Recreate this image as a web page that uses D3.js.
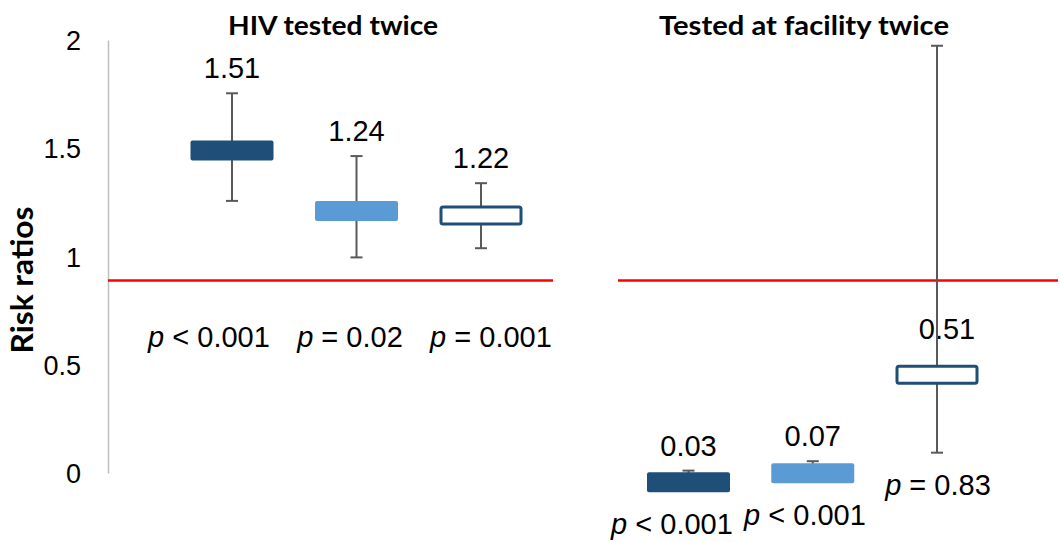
<!DOCTYPE html>
<html>
<head>
<meta charset="utf-8">
<script src="https://cdn.jsdelivr.net/npm/d3@7"></script>
<style>
  html, body { margin: 0; padding: 0; background: #fff; }
  svg { display: block; }
</style>
</head>
<body>
<svg id="chart" width="1060" height="542"></svg>
<script>
// ---------------- data ----------------
const panelTitles = ["HIV tested twice", "Tested at facility twice"];
const seriesNames = ["Series 1", "Series 2", "Series 3"];

// Panel 1: HIV tested twice
const rrHIV   = [1.51, 1.24, 1.22];
const lowHIV  = [1.285, 1.033, 1.074];
const highHIV = [1.765, 1.485, 1.364];
const pHIV    = ["< 0.001", "= 0.02", "= 0.001"];

// Panel 2: Tested at facility twice
const rrFac   = [0.03, 0.07, 0.51];
const lowFac  = [0.01, 0.04, 0.162];
const highFac = [0.082, 0.124, 1.977];
const pFac    = ["< 0.001", "< 0.001", "= 0.83"];

const refLineValue = 0.93;
const tickValues = [0, 0.5, 1, 1.5, 2];
const tickLabels = ["0", "0.5", "1", "1.5", "2"];
const yAxisTitle = "Risk ratios";

// ---------------- styles ----------------
const seriesStyle = [
  { fill: "#1F4E79", stroke: "none", sw: 0 },
  { fill: "#5B9BD5", stroke: "none", sw: 0 },
  { fill: "#FFFFFF", stroke: "#1F4E79", sw: 3 }
];
const numFont = "'Liberation Sans', Arial, sans-serif";
const titleFont = "Lato, 'Open Sans', sans-serif";

const svg = d3.select("#chart");

// scales
const yAxisScale = d3.scaleLinear().domain([0, 2]).range([473, 40]);
const yData = d3.scaleLinear().domain([0, 2]).range([489, 40.6]);

const panels = [
  { title: panelTitles[0], rr: rrHIV, low: lowHIV, high: highHIV, p: pHIV,
    x: d3.scalePoint().domain(seriesNames).range([232, 481]),
    px: d3.scalePoint().domain(seriesNames).range([209, 491]),
    lineX: [108, 553], titleX: 333, titleLen: 210, pMode: "fixed" },
  { title: panelTitles[1], rr: rrFac, low: lowFac, high: highFac, p: pFac,
    x: d3.scalePoint().domain(seriesNames).range([688.5, 937]),
    px: d3.scalePoint().domain(seriesNames).range([672, 938]),
    lineX: [618, 1058], titleX: 804, titleLen: 290, pMode: "below" }
];

// y axis
const axis = d3.axisLeft(yAxisScale)
  .tickValues(tickValues)
  .tickFormat((d, i) => tickLabels[i])
  .tickSize(0).tickSizeOuter(0).tickPadding(27);
const gAxis = svg.append("g").attr("transform", "translate(108,0)").call(axis);
gAxis.select(".domain").attr("stroke", "#BFBFBF").attr("stroke-width", 1.5);
gAxis.selectAll(".tick text")
  .attr("font-family", numFont).attr("font-size", 27).attr("fill", "#000")
  .attr("dy", "0.36em");

// y axis title
svg.append("text")
  .attr("transform", "translate(33,280) rotate(-90)")
  .attr("text-anchor", "middle")
  .attr("font-family", titleFont).attr("font-weight", 700).attr("font-size", 30)
  .attr("textLength", 147).attr("lengthAdjust", "spacingAndGlyphs")
  .attr("fill", "#000")
  .text(yAxisTitle);

const boxW = 83, boxH = 20, capW = 12;

panels.forEach(P => {
  const g = svg.append("g");
  const rows = seriesNames.map((s, i) => ({
    s, i, rr: P.rr[i], low: P.low[i], high: P.high[i], p: P.p[i]
  }));

  // title
  g.append("text")
    .attr("x", P.titleX).attr("y", 35)
    .attr("text-anchor", "middle")
    .attr("font-family", titleFont).attr("font-weight", 700).attr("font-size", 27)
    .attr("textLength", P.titleLen).attr("lengthAdjust", "spacingAndGlyphs")
    .attr("fill", "#000")
    .text(P.title);

  // reference line
  g.append("line")
    .attr("x1", P.lineX[0]).attr("x2", P.lineX[1])
    .attr("y1", yData(refLineValue)).attr("y2", yData(refLineValue))
    .attr("stroke", "#FF0000").attr("stroke-width", 2.5);

  // value labels (drawn before whiskers, as in the original)
  g.selectAll("text.val").data(rows).join("text").attr("class", "val")
    .attr("x", d => (d.high - d.rr > 0.6) ? P.x(d.s) + 10 : P.x(d.s))
    .attr("y", d => (d.high - d.rr > 0.6)
      ? yData(d.rr) - boxH / 2 - 26
      : yData(d.high) - 15)
    .attr("text-anchor", "middle")
    .attr("font-family", numFont).attr("font-size", 29).attr("fill", "#000")
    .text(d => d.rr.toFixed(2));

  // whiskers
  const wg = g.append("g").attr("stroke", "#595959").attr("stroke-width", 2);
  wg.selectAll("line.w").data(rows).join("line").attr("class", "w")
    .attr("x1", d => P.x(d.s)).attr("x2", d => P.x(d.s))
    .attr("y1", d => yData(d.high)).attr("y2", d => yData(d.low));
  wg.selectAll("line.ct").data(rows).join("line").attr("class", "ct")
    .attr("x1", d => P.x(d.s) - capW / 2).attr("x2", d => P.x(d.s) + capW / 2)
    .attr("y1", d => yData(d.high)).attr("y2", d => yData(d.high));
  wg.selectAll("line.cb").data(rows).join("line").attr("class", "cb")
    .attr("x1", d => P.x(d.s) - capW / 2).attr("x2", d => P.x(d.s) + capW / 2)
    .attr("y1", d => yData(d.low)).attr("y2", d => yData(d.low));

  // boxes
  g.selectAll("rect.box").data(rows).join("rect").attr("class", "box")
    .attr("x", d => P.x(d.s) - (boxW - seriesStyle[d.i].sw) / 2)
    .attr("y", d => yData(d.rr) - (boxH - seriesStyle[d.i].sw) / 2)
    .attr("width", d => boxW - seriesStyle[d.i].sw)
    .attr("height", d => boxH - seriesStyle[d.i].sw)
    .attr("rx", 2)
    .attr("fill", d => seriesStyle[d.i].fill)
    .attr("stroke", d => seriesStyle[d.i].stroke)
    .attr("stroke-width", d => seriesStyle[d.i].sw);

  // p-value labels
  const pt = g.selectAll("text.p").data(rows).join("text").attr("class", "p")
    .attr("x", d => P.px(d.s))
    .attr("y", d => P.pMode === "fixed"
      ? yData(refLineValue) + 67
      : Math.max(yData(d.low), yData(d.rr) + boxH / 2) + 42)
    .attr("text-anchor", "middle")
    .attr("font-family", numFont).attr("font-size", 29).attr("fill", "#000");
  pt.append("tspan").attr("font-style", "italic").text("p");
  pt.append("tspan").text(d => " " + d.p);
});
</script>
</body>
</html>
